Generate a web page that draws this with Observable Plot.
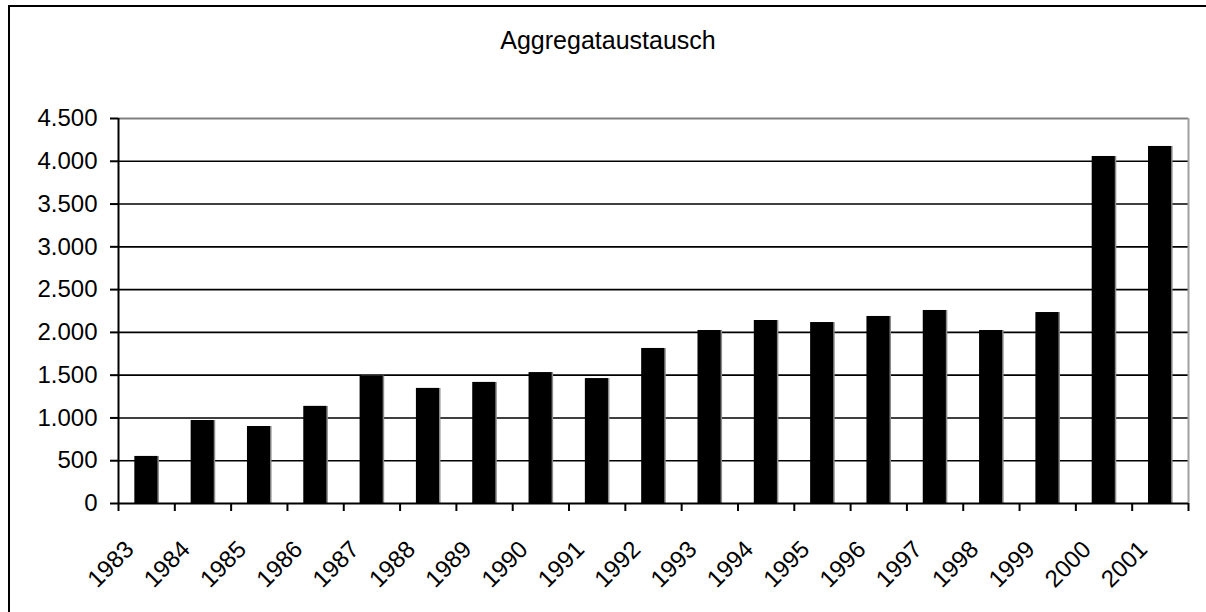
<!DOCTYPE html>
<html>
<head>
<meta charset="utf-8">
<script src="https://cdn.jsdelivr.net/npm/d3@7"></script>
<script src="https://cdn.jsdelivr.net/npm/@observablehq/plot@0.6"></script>
<style>
  html, body { margin: 0; padding: 0; background: #fff; overflow: hidden; }
  body { width: 1206px; height: 612px; position: relative; font-family: "Liberation Sans", Arial, sans-serif; }
  #frame { position: absolute; left: 8px; top: 5px; width: 1200px; height: 640px; border: 2px solid #000; box-sizing: border-box; }
  #title { position: absolute; left: 8px; width: 1200px; top: 25px; text-align: center; font-size: 25px; line-height: 30px; color: #000; }
  #chart { position: absolute; left: 0; top: 90px; }
</style>
</head>
<body>
<div id="frame"></div>
<div id="title">Aggregataustausch</div>
<div id="chart"></div>
<script>
const years = ["1983","1984","1985","1986","1987","1988","1989","1990","1991","1992","1993","1994","1995","1996","1997","1998","1999","2000","2001"];
const values = [550, 970, 900, 1135, 1490, 1345, 1415, 1530, 1460, 1812, 2022, 2139, 2115, 2186, 2256, 2022, 2232, 4056, 4173];
const yTicks = [0, 500, 1000, 1500, 2000, 2500, 3000, 3500, 4000, 4500];

const data = years.map((y, i) => ({i, year: y, value: values[i]}));
const de = d3.formatLocale({decimal: ",", thousands: ".", grouping: [3], currency: ["", "€"]});
const fmt = de.format(",");

const n = years.length;
const boundaries = d3.range(n + 1);
const centers = d3.range(n).map(i => i + 0.5);

const chart = Plot.plot({
  width: 1206,
  height: 522,
  marginLeft: 118,
  marginRight: 18,
  marginTop: 28,
  marginBottom: 109,
  style: {fontFamily: "'Liberation Sans', Arial, sans-serif", fontSize: "24px", color: "#000", background: "transparent"},
  x: {type: "linear", domain: [0, n], axis: null},
  y: {domain: [0, 4500], axis: null},
  marks: [
    Plot.ruleY(yTicks.filter(t => t > 0 && t < 4500), {stroke: "#000", strokeWidth: 1.6}),
    Plot.ruleY([4500], {stroke: "#808080", strokeWidth: 2}),
    Plot.ruleX([n], {stroke: "#a0a0a0", strokeWidth: 2}),
    Plot.rectY(data, {x1: d => d.i + 0.29, x2: d => d.i + 0.70, y: "value", fill: "#8a8a8a", dx: 1.5}),
    Plot.rectY(data, {x1: d => d.i + 0.29, x2: d => d.i + 0.70, y: "value", fill: "#000"}),
    Plot.ruleX([0], {stroke: "#000", strokeWidth: 2}),
    Plot.ruleY([0], {stroke: "#000", strokeWidth: 2}),
    Plot.axisY({ticks: yTicks, tickFormat: fmt, tickSize: 8, tickPadding: 13, strokeWidth: 2, fontSize: 24, label: null}),
    Plot.axisX({ticks: boundaries, tickFormat: () => "", tickSize: 8, strokeWidth: 2, label: null}),
    Plot.axisX({ticks: centers, tickFormat: d => years[Math.round(d - 0.5)], tickSize: 0, tickPadding: 42, tickRotate: -45, dx: -17, fontSize: 24, label: null})
  ]
});
document.getElementById("chart").appendChild(chart);
</script>
</body>
</html>
